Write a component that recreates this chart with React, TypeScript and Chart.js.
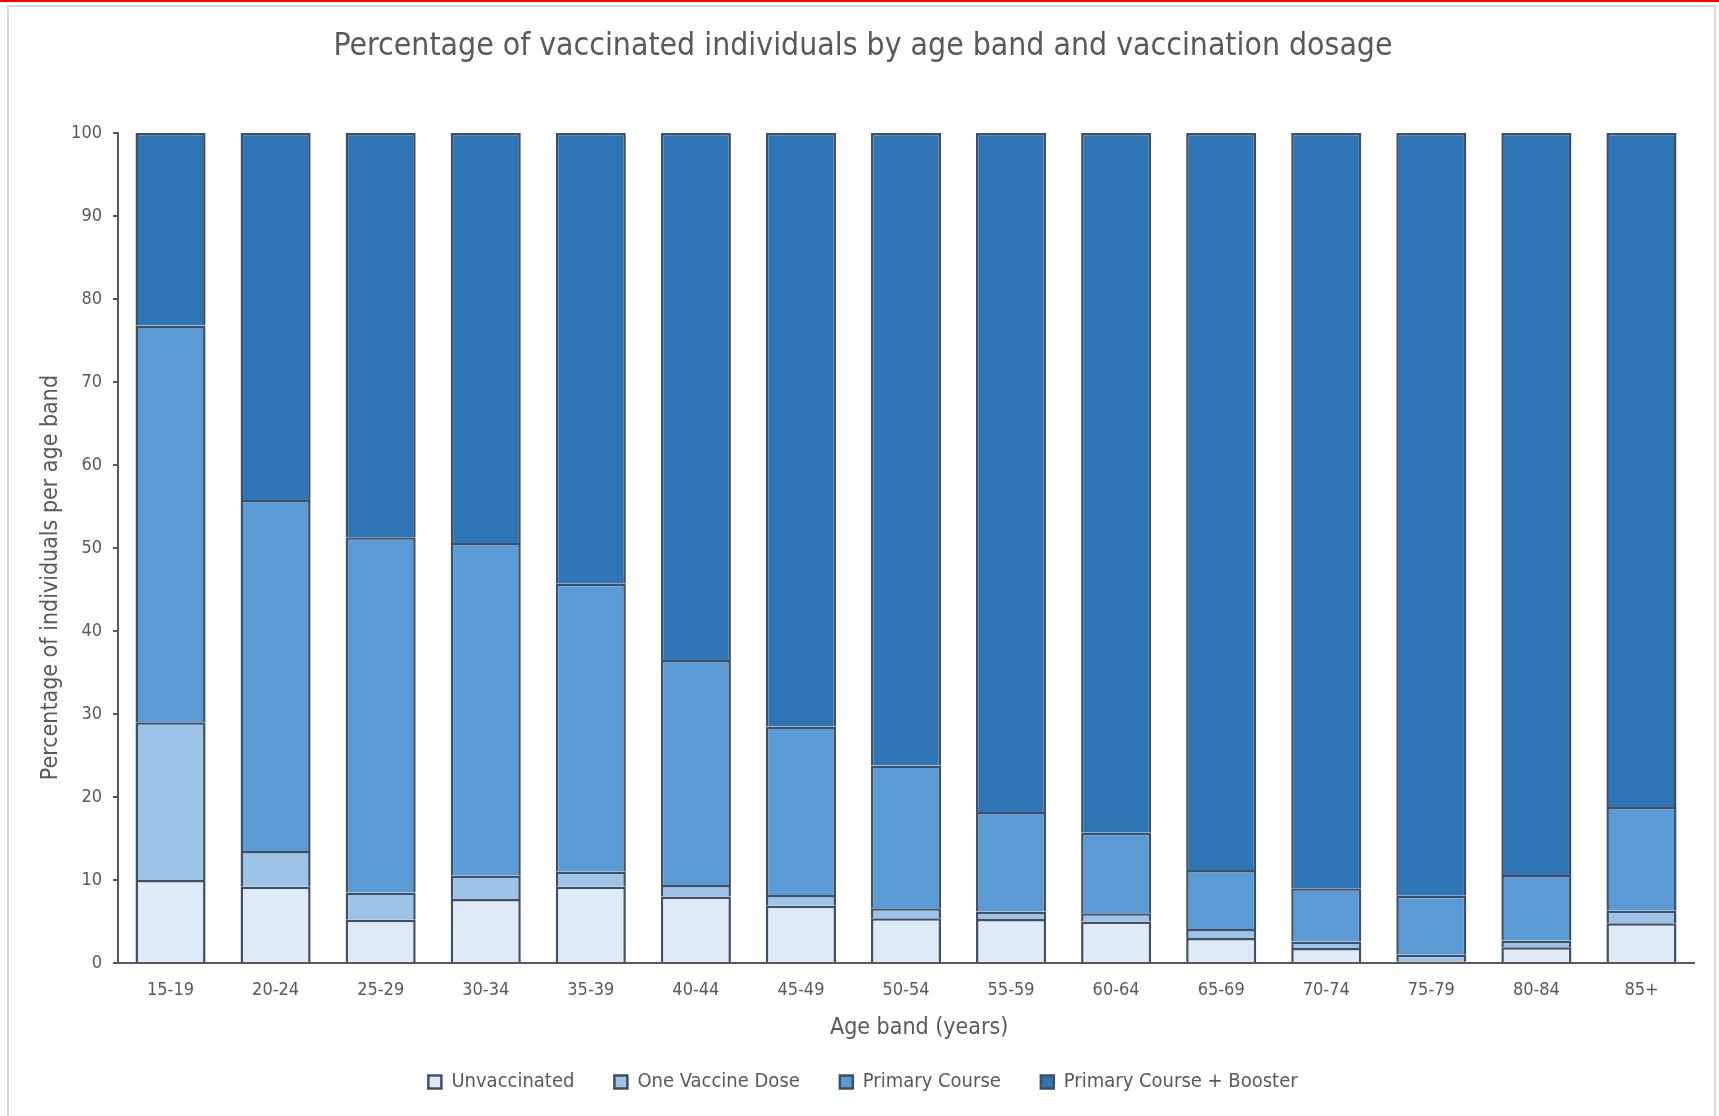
import React, { useEffect, useRef } from "react";
import { Chart, registerables } from "chart.js";

Chart.register(...registerables);

const ageBands = ["15-19", "20-24", "25-29", "30-34", "35-39", "40-44", "45-49", "50-54", "55-59", "60-64", "65-69", "70-74", "75-79", "80-84", "85+"];
const unvaccinated = [10.0, 9.2, 5.2, 7.7, 9.2, 8.0, 6.9, 5.4, 5.3, 5.0, 3.0, 1.8, 0.2, 1.9, 4.8];
const oneVaccineDose = [19.0, 4.3, 3.3, 2.8, 1.8, 1.4, 1.3, 1.2, 0.9, 1.0, 1.1, 0.8, 0.8, 0.8, 1.5];
const primaryCourse = [47.8, 42.3, 42.8, 40.1, 34.7, 27.1, 20.3, 17.2, 12.0, 9.7, 7.1, 6.4, 7.1, 7.9, 12.5];
const primaryCourseBooster = [23.2, 44.2, 48.7, 49.4, 54.3, 63.5, 71.5, 76.2, 81.8, 84.3, 88.8, 91.0, 91.9, 89.4, 81.2];

const seriesNames = ["Unvaccinated", "One Vaccine Dose", "Primary Course", "Primary Course + Booster"];
const seriesColors = ["#DEEBF7", "#9DC3E6", "#5B9BD5", "#2E75B6"];

const FONT = "'DejaVu Sans Condensed', 'DejaVu Sans', sans-serif";
const TEXT = "#595959";
const EDGE = "#3F4F66";

export default function App() {
  const ref = useRef<HTMLCanvasElement | null>(null);

  useEffect(() => {
    const canvas = ref.current;
    if (!canvas) return;
    const values = [unvaccinated, oneVaccineDose, primaryCourse, primaryCourseBooster];
    const chart = new Chart(canvas, {
      type: "bar",
      data: {
        labels: ageBands,
        datasets: values.map((d, i) => ({
          label: seriesNames[i],
          data: d,
          backgroundColor: seriesColors[i],
          borderColor: EDGE,
          borderWidth: 2.5,
          borderSkipped: "start",
          barPercentage: 0.667,
          categoryPercentage: 1,
        })),
      },
      options: {
        responsive: false,
        animation: false,
        devicePixelRatio: 1,
        layout: { padding: { left: 32, right: 25, top: 0, bottom: 14 } },
        plugins: {
          title: {
            display: true,
            text: "Percentage of vaccinated individuals by age band and vaccination dosage",
            color: TEXT,
            font: { family: FONT, size: 31.7, weight: "normal" },
            padding: { top: 28, bottom: 67 },
          },
          legend: {
            display: true,
            position: "bottom",
            labels: {
              color: TEXT,
              font: { family: FONT, size: 20 },
              boxWidth: 13,
              boxHeight: 13,
              padding: 40,
            },
          },
          tooltip: { enabled: false },
        },
        scales: {
          x: {
            stacked: true,
            grid: { display: false },
            border: { display: true, color: "#595959", width: 2 },
            ticks: { color: TEXT, font: { family: FONT, size: 18 }, padding: 9 },
            title: {
              display: true,
              text: "    Age band (years)",
              color: TEXT,
              font: { family: FONT, size: 23 },
              padding: { top: 0, bottom: -10 },
            },
            afterFit: (s: any) => { s.height = 69; },
          },
          y: {
            stacked: true,
            min: 0,
            max: 100,
            grid: { display: true, drawOnChartArea: false, drawTicks: true, tickLength: 5, color: "#595959", lineWidth: 2 },
            border: { display: true, color: "#595959", width: 2 },
            ticks: { stepSize: 10, color: TEXT, font: { family: FONT, size: 18 }, padding: 11 },
            title: {
              display: true,
              text: "Percentage of individuals per age band         ",
              color: TEXT,
              font: { family: FONT, size: 23 },
              padding: { top: 5, bottom: 0 },
            },
            afterFit: (s: any) => { s.width = 86; },
          },
        },
      },
    } as any);
    return () => chart.destroy();
  }, []);

  return (
    <div style={{ position: "fixed", left: 0, top: 0, width: 1719, height: 1116, background: "#ffffff" }}>
      <div style={{ position: "absolute", left: 0, top: 0, width: 1719, height: 2, background: "#ff0000" }} />
      <div style={{ position: "absolute", left: 7, top: 5, width: 1709, height: 1120, border: "2px solid #d9d9d9", boxSizing: "border-box" }} />
      <canvas ref={ref} width={1719} height={1116} style={{ position: "absolute", left: 0, top: 0, width: 1719, height: 1116 }} />
    </div>
  );
}
